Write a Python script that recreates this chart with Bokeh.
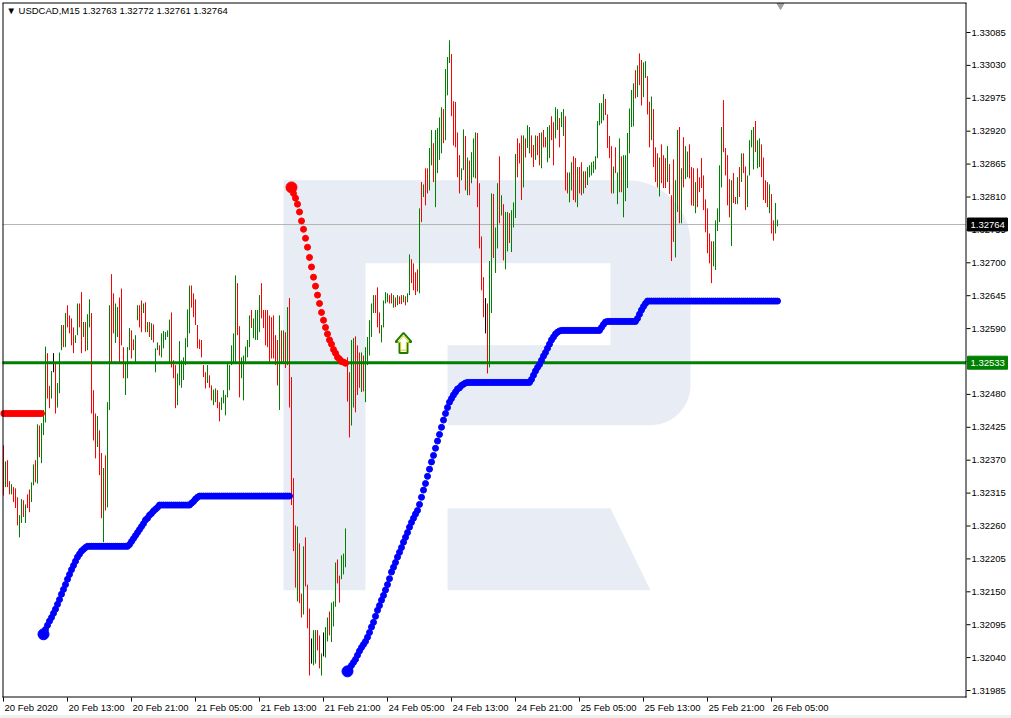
import numpy as np
from bokeh.plotting import figure
from bokeh.models import Range1d
from bokeh.core.properties import value
from bokeh.embed import file_html
from bokeh.resources import INLINE

# ---------------- data ----------------
symbol = "USDCAD,M15"
last_ohlc = [1.32763, 1.32772, 1.32761, 1.32764]
bid_price = 1.32764
level_price = 1.32533

price_ticks = [1.33085, 1.33030, 1.32975, 1.32920, 1.32865, 1.32810, 1.32755,
               1.32700, 1.32645, 1.32590, 1.32535, 1.32480, 1.32425, 1.32370,
               1.32315, 1.32260, 1.32205, 1.32150, 1.32095, 1.32040, 1.31985]
time_tick_bars = [0, 32, 64, 96, 128, 160, 192, 224, 256, 288, 320, 352, 384]
time_labels = ["20 Feb 2020", "20 Feb 13:00", "20 Feb 21:00", "21 Feb 05:00",
               "21 Feb 13:00", "21 Feb 21:00", "24 Feb 05:00", "24 Feb 13:00",
               "24 Feb 21:00", "25 Feb 05:00", "25 Feb 13:00", "25 Feb 21:00",
               "26 Feb 05:00"]

# bar highs / lows in points (price * 1e5), one per M15 bar
bar_high = [
    132395, 132368, 132370, 132335, 132330, 132325, 132323, 132308, 132278, 132305,
    132303, 132296, 132313, 132321, 132333, 132363, 132370, 132430, 132428, 132432,
    132454, 132560, 132549, 132494, 132519, 132549, 132532, 132499, 132550, 132596,
    132596, 132616, 132629, 132612, 132607, 132592, 132579, 132632, 132632, 132651,
    132601, 132601, 132614, 132639, 132616, 132487, 132448, 132444, 132420, 132382,
    132357, 132378, 132467, 132629, 132681, 132649, 132632, 132626, 132642, 132657,
    132559, 132532, 132559, 132591, 132587, 132572, 132579, 132629, 132629, 132637,
    132632, 132634, 132601, 132601, 132599, 132597, 132557, 132567, 132562, 132582,
    132586, 132584, 132587, 132605, 132617, 132537, 132529, 132515, 132569, 132537,
    132542, 132574, 132622, 132662, 132662, 132649, 132639, 132596, 132572, 132571,
    132529, 132517, 132529, 132512, 132495, 132488, 132490, 132487, 132467, 132475,
    132487, 132479, 132532, 132529, 132562, 132582, 132679, 132666, 132594, 132542,
    132545, 132560, 132571, 132612, 132621, 132607, 132621, 132621, 132646, 132666,
    132621, 132621, 132621, 132612, 132609, 132612, 132579, 132571, 132612, 132587,
    132587, 132584, 132626, 132641, 132509, 132340, 132261, 132259, 132231, 132147,
    132226, 132241, 132162, 132122, 132072, 132086, 132086, 132086, 132077, 132047,
    132082, 132091, 132107, 132117, 132132, 132134, 132199, 132204, 132177, 132211,
    132214, 132256, 132542, 132517, 132571, 132574, 132577, 132562, 132550, 132550,
    132545, 132559, 132576, 132604, 132632, 132646, 132646, 132659, 132617, 132596,
    132637, 132651, 132649, 132646, 132649, 132646, 132642, 132646, 132644, 132646,
    132646, 132644, 132649, 132714, 132706, 132699, 132684, 132689, 132791, 132835,
    132831, 132858, 132858, 132892, 132922, 132900, 132922, 132925, 132943, 132960,
    132957, 133024, 133044, 133072, 133049, 132970, 132969, 132918, 132880, 132858,
    132923, 132912, 132876, 132871, 132885, 132908, 132918, 132917, 132833, 132744,
    132676, 132641, 132632, 132703, 132816, 132815, 132759, 132833, 132878, 132813,
    132798, 132785, 132785, 132783, 132788, 132801, 132882, 132908, 132900, 132913,
    132913, 132908, 132930, 132927, 132913, 132897, 132913, 132912, 132917, 132918,
    132922, 132910, 132927, 132930, 132945, 132935, 132960, 132957, 132942, 132952,
    132957, 132945, 132851, 132851, 132868, 132878, 132875, 132860, 132860, 132868,
    132853, 132853, 132860, 132863, 132868, 132870, 132878, 132937, 132967, 132967,
    132982, 132974, 132948, 132912, 132895, 132861, 132893, 132851, 132908, 132878,
    132880, 132880, 132917, 132958, 132989, 133000, 133022, 133030, 133050, 133039,
    133035, 133037, 133012, 132969, 132978, 132957, 132893, 132883, 132876, 132898,
    132880, 132875, 132895, 132865, 132813, 132873, 132838, 132922, 132927, 132858,
    132910, 132895, 132886, 132898, 132860, 132858, 132835, 132858, 132843, 132875,
    132846, 132806, 132791, 132749, 132736, 132736, 132771, 132791, 132863, 132927,
    132972, 132892, 132880, 132840, 132838, 132850, 132810, 132843, 132860, 132883,
    132883, 132861, 132846, 132905, 132922, 132927, 132937, 132905, 132908, 132898,
    132876, 132838, 132835, 132831, 132815, 132771, 132800, 132772]
bar_low = [
    132311, 132325, 132325, 132313, 132313, 132300, 132290, 132261, 132241, 132265,
    132275, 132265, 132290, 132283, 132300, 132328, 132333, 132331, 132375, 132365,
    132412, 132433, 132473, 132457, 132473, 132517, 132448, 132458, 132482, 132554,
    132559, 132559, 132592, 132582, 132562, 132549, 132566, 132579, 132592, 132549,
    132576, 132552, 132554, 132592, 132448, 132403, 132373, 132392, 132345, 132273,
    132233, 132286, 132291, 132454, 132534, 132582, 132566, 132576, 132532, 132562,
    132507, 132479, 132507, 132554, 132540, 132554, 132534, 132604, 132592, 132584,
    132616, 132584, 132584, 132576, 132571, 132567, 132517, 132554, 132545, 132542,
    132557, 132571, 132576, 132532, 132525, 132507, 132457, 132462, 132495, 132491,
    132504, 132529, 132559, 132582, 132625, 132609, 132596, 132557, 132556, 132542,
    132509, 132490, 132499, 132491, 132470, 132462, 132467, 132457, 132435, 132454,
    132465, 132445, 132475, 132487, 132529, 132532, 132532, 132579, 132475, 132507,
    132470, 132532, 132542, 132559, 132591, 132574, 132571, 132571, 132584, 132607,
    132591, 132562, 132559, 132534, 132540, 132540, 132529, 132495, 132454, 132534,
    132534, 132524, 132529, 132458, 132295, 132218, 132157, 132134, 132131, 132107,
    132112, 132159, 132089, 132010, 132030, 132027, 132030, 132052, 132022, 132010,
    132042, 132040, 132067, 132077, 132066, 132092, 132125, 132164, 132132, 132171,
    132179, 132191, 132468, 132408, 132428, 132458, 132450, 132479, 132491, 132484,
    132485, 132467, 132529, 132545, 132576, 132616, 132616, 132592, 132582, 132567,
    132592, 132632, 132634, 132632, 132632, 132625, 132626, 132629, 132631, 132631,
    132634, 132629, 132634, 132646, 132666, 132654, 132646, 132652, 132649, 132768,
    132810, 132796, 132816, 132821, 132863, 132835, 132793, 132850, 132872, 132883,
    132900, 132905, 132980, 133034, 132945, 132896, 132893, 132843, 132816, 132838,
    132855, 132821, 132813, 132813, 132833, 132843, 132841, 132793, 132724, 132654,
    132609, 132582, 132515, 132525, 132616, 132708, 132683, 132724, 132766, 132779,
    132704, 132689, 132719, 132733, 132718, 132759, 132775, 132843, 132866, 132805,
    132826, 132876, 132892, 132883, 132876, 132860, 132872, 132880, 132863, 132858,
    132893, 132893, 132868, 132875, 132905, 132863, 132908, 132922, 132893, 132927,
    132912, 132821, 132816, 132801, 132821, 132805, 132801, 132793, 132816, 132813,
    132816, 132825, 132830, 132843, 132846, 132850, 132856, 132875, 132930, 132933,
    132938, 132947, 132892, 132875, 132816, 132816, 132850, 132798, 132818, 132818,
    132776, 132803, 132825, 132883, 132927, 132928, 132975, 132977, 132997, 132963,
    132977, 133009, 132948, 132893, 132905, 132860, 132835, 132826, 132811, 132833,
    132825, 132825, 132835, 132815, 132703, 132735, 132709, 132785, 132766, 132766,
    132826, 132840, 132843, 132841, 132796, 132795, 132783, 132793, 132818, 132825,
    132788, 132751, 132716, 132699, 132666, 132694, 132688, 132753, 132768, 132826,
    132885, 132846, 132796, 132776, 132728, 132800, 132798, 132798, 132810, 132835,
    132850, 132788, 132793, 132846, 132893, 132856, 132885, 132858, 132860, 132843,
    132805, 132800, 132793, 132783, 132749, 132737, 132749, 132761]
# bar direction: g = up, d = down, n = unchanged
bar_dir = ("dgddgdddgg" "dgddggdgdg" "ggddgndggg" "dgddddggdd" "gdggdddgdd"
           "gdggddggdd" "dgggddggdd" "gdgdgdggdg" "ggggdddggg" "ggggdddddd"
           "ddgddggddg" "gggggggddg" "ggggdggggd" "ddddddddgd" "gdgddddgdd"
           "gdddnggddg" "nggdgggddg" "ggddggdddg" "dgggggdddg" "gggddgdgdd"
           "gdggddddgd" "gddggdgggg" "dgggdddddg" "gdgdgggddd" "dndggdggdg"
           "dggdgggddd" "gdggddgddg" "ddggddggdg" "gddggddgdd" "gdgggggggg"
           "gddddgdggd" "ggggggdgdd" "ggddgdddgd" "ddgdddggdg" "dggdddgddd"
           "dddddggggg" "ddddgddgdg" "ddggggdggd" "dddgddgg")

# trailing-stop indicator (points), segments with their first bar
stop_red_1_start = 0
stop_red_1 = [132448, 132448, 132448, 132448, 132448, 132448, 132448, 132448, 132448, 132448,
              132448, 132448, 132448, 132448, 132448, 132448, 132448, 132448, 132448, 132448]
stop_blue_1_start = 20
stop_blue_1 = [
    132079, 132087, 132094, 132101, 132107, 132114, 132121, 132129, 132137, 132146,
    132154, 132162, 132171, 132179, 132187, 132194, 132201, 132208, 132213, 132218,
    132221, 132224,
    132226, 132226, 132226, 132226, 132226, 132226, 132226, 132226, 132226, 132226,
    132226, 132226, 132226, 132226, 132226, 132226, 132226, 132226, 132226, 132226, 132226,
    132229, 132234, 132239, 132244, 132249, 132254, 132259, 132264, 132270, 132273,
    132278, 132281, 132285, 132288, 132291,
    132295, 132295, 132295, 132295, 132295, 132295, 132295, 132295, 132295, 132295,
    132295, 132295, 132295, 132295, 132295, 132295,
    132298, 132301, 132305, 132308,
    132310, 132310, 132310, 132310, 132310, 132310, 132310, 132310, 132310, 132310,
    132310, 132310, 132310, 132310, 132310, 132310, 132310, 132310, 132310, 132310,
    132310, 132310, 132310, 132310, 132310, 132310, 132310, 132310, 132310, 132310,
    132310, 132310, 132310, 132310, 132310, 132310, 132310, 132310, 132310, 132310,
    132310, 132310, 132310, 132310, 132310, 132310]
stop_red_2_start = 144
stop_red_2 = [132826, 132816, 132808, 132798, 132785, 132770, 132756, 132741, 132726, 132709,
              132693, 132676, 132661, 132646, 132632, 132617, 132604, 132592, 132581, 132571,
              132564, 132555, 132549, 132542, 132539, 132535, 132534, 132532]
stop_blue_2_start = 172
stop_blue_2 = [
    132017, 132022, 132027, 132032, 132037, 132044, 132051, 132057, 132062, 132067,
    132074, 132082, 132091, 132099, 132109, 132119, 132127, 132136, 132144, 132153,
    132162, 132172, 132183, 132191, 132199, 132208, 132216, 132224, 132233, 132241,
    132249, 132258, 132266, 132273, 132280, 132286, 132296, 132308, 132320, 132331,
    132343, 132355, 132367, 132378, 132390, 132402, 132413, 132425, 132437, 132448,
    132458, 132467, 132473, 132479, 132484, 132489, 132491, 132495, 132497, 132499,
    132500, 132500, 132500, 132500, 132500, 132500, 132500, 132500, 132500, 132500,
    132500, 132500, 132500, 132500, 132500, 132500, 132500, 132500, 132500, 132500,
    132500, 132500, 132500, 132500, 132500, 132500, 132500, 132500, 132500, 132500,
    132500, 132500,
    132505, 132512, 132519, 132525, 132530, 132537, 132544, 132550, 132557, 132564,
    132571, 132576, 132581, 132584, 132586,
    132587, 132587, 132587, 132587, 132587, 132587, 132587, 132587, 132587, 132587,
    132587, 132587, 132587, 132587, 132587, 132587, 132587, 132587, 132587, 132587,
    132592, 132597, 132601,
    132602, 132602, 132602, 132602, 132602, 132602, 132602, 132602, 132602, 132602,
    132602, 132602, 132602, 132602, 132602,
    132607, 132614, 132621, 132627, 132632,
    132636, 132636, 132636, 132636, 132636, 132636, 132636, 132636, 132636, 132636,
    132636, 132636, 132636, 132636, 132636, 132636, 132636, 132636, 132636, 132636,
    132636, 132636, 132636, 132636, 132636, 132636, 132636, 132636, 132636, 132636,
    132636, 132636, 132636, 132636, 132636, 132636, 132636, 132636, 132636, 132636,
    132636, 132636, 132636, 132636, 132636, 132636, 132636, 132636, 132636, 132636,
    132636, 132636, 132636, 132636, 132636, 132636, 132636, 132636, 132636, 132636,
    132636, 132636, 132636, 132636, 132636, 132636]

arrow_bar = 200
arrow_price = 1.32566

# ---------------- layout (whole canvas is the frame) ----------------
W, H = 1011, 718
PXB = 2.0                 # px per bar
PXP = 59818.0             # px per price unit
X0 = -1.5                 # bar value at canvas left edge
X1 = X0 + W / PXB
Y1 = 1.331385             # price at canvas top edge
Y0 = Y1 - H / PXP

def bx(px):   # canvas px -> bar coordinate
    return X0 + px / PXB

def py(pix):  # canvas px (from top) -> price coordinate
    return Y1 - pix / PXP

FONT = "Liberation Sans"
FS = "9.5px"
GREEN = "#008000"
RED = "#ff0000"
BLUE = "#0000ff"
LOGO = "#e8edf5"

p = figure(width=W, height=H, x_range=Range1d(X0, X1), y_range=Range1d(Y0, Y1),
           output_backend="svg", toolbar_location=None,
           x_axis_location=None, y_axis_location=None,
           min_border=0, min_border_left=0, min_border_right=0,
           min_border_top=0, min_border_bottom=0)
p.grid.visible = False
p.background_fill_color = "white"
p.border_fill_color = "white"
p.outline_line_color = None

# bottom status strip
p.quad(left=X0, right=X1, top=py(715), bottom=Y0, color="#f0f0f0")

# ---- watermark logo (drawn in the chart's bar/price space) ----
def logo_pt(px, pyx):
    return (px - 3.0) / 2.0, (133139 - 1.672 * pyx) / 1e5

def arc(cx, cy, r, a0, a1, n=18):
    t = np.radians(np.linspace(a0, a1, n))
    return list(zip(cx + r * np.cos(t), cy + r * np.sin(t)))

outline = ([(283, 180), (627, 180)] + arc(627, 243, 63, -90, 0) +
           [(690, 385)] + arc(650, 385, 40, 0, 90) +
           [(447, 425), (447, 345), (610, 345), (610, 263), (365, 263),
            (365, 590), (283, 590)])
leg = [(447, 508), (610, 508), (650, 590), (447, 590)]
for shape in (outline, leg):
    pts = [logo_pt(a, b) for a, b in shape]
    p.patch([q[0] for q in pts], [q[1] for q in pts], fill_color=LOGO,
            line_color=None)

FL, FR = bx(2), bx(965.5)     # chart frame left / right

# ---- bid line ----
p.segment(x0=[FL], x1=[FR], y0=[bid_price], y1=[bid_price],
          line_color="#b4b4b4", line_width=1)

# ---- bars ----
n = min(len(bar_high), len(bar_low), len(bar_dir))
cmap = {"g": GREEN, "d": RED, "n": "black"}
p.segment(x0=list(range(n)), x1=list(range(n)),
          y0=[v / 1e5 for v in bar_low[:n]], y1=[v / 1e5 for v in bar_high[:n]],
          color=[cmap[c] for c in bar_dir[:n]], line_width=1)

# ---- level line ----
p.segment(x0=[FL], x1=[FR], y0=[level_price], y1=[level_price],
          line_color=GREEN, line_width=3)

# ---- stop indicator dots ----
segments = [(stop_red_1_start, stop_red_1, RED, False),
            (stop_blue_1_start, stop_blue_1, BLUE, True),
            (stop_red_2_start, stop_red_2, RED, True),
            (stop_blue_2_start, stop_blue_2, BLUE, True)]
for start, vals, col, big in segments:
    xs = list(range(start, start + len(vals)))
    ys = [v / 1e5 for v in vals]
    p.scatter(xs, ys, size=6, color=col, marker="circle")
    if big:
        p.scatter([xs[0]], [ys[0]], size=11, color=col, marker="circle")

# ---- signal arrow ----
arrow_shape = [(0, -10), (8, -1), (4, -1), (4, 10), (-4, 10), (-4, -1), (-8, -1)]
p.patch([arrow_bar + dx / PXB for dx, dy in arrow_shape],
        [arrow_price - dy / PXP for dx, dy in arrow_shape],
        fill_color="white", line_color="#1f7a00", line_width=2)
p.patch([arrow_bar + dx * 0.72 / PXB for dx, dy in arrow_shape],
        [arrow_price - dy * 0.72 / PXP for dx, dy in arrow_shape],
        fill_color="white", line_color="#d0d000", line_width=1)

# ---- shift marker ----
p.scatter([n + 0.5], [py(5)], marker="inverted_triangle", size=7,
          color="#a0a0a0")

# ---- chart frame ----
p.multi_line(xs=[[bx(2.5), bx(2.5)], [bx(2), bx(966)], [bx(965.5), bx(965.5)], [bx(2), bx(966)]],
             ys=[[py(2.5), py(697)], [py(2.5), py(2.5)], [py(2.5), py(697)], [py(696.5), py(696.5)]],
             line_color="black", line_width=1)

# ---- price scale on the right ----
p.segment(x0=[bx(966)] * len(price_ticks), x1=[bx(970)] * len(price_ticks),
          y0=price_ticks, y1=price_ticks, line_color="black", line_width=1)
p.text(x=[bx(971)] * len(price_ticks), y=price_ticks,
       text=[f"{t:.5f}" for t in price_ticks], text_font=value(FONT),
       text_font_size=value(FS), text_color="black", text_align="left",
       text_baseline="middle")

# ---- time scale at the bottom ----
p.segment(x0=time_tick_bars, x1=time_tick_bars,
          y0=[py(697)] * len(time_tick_bars), y1=[py(701)] * len(time_tick_bars),
          line_color="black", line_width=1)
p.text(x=[t + 0.5 for t in time_tick_bars], y=[py(706.5)] * len(time_tick_bars),
       text=time_labels, text_font=value(FONT), text_font_size=value(FS),
       text_color="black", text_align="left", text_baseline="middle")

# ---- price boxes ----
for price, bg in ((bid_price, "black"), (level_price, GREEN)):
    p.quad(left=[bx(967)], right=[bx(1007)], top=[price + 6.5 / PXP],
           bottom=[price - 6.5 / PXP], color=bg)
    p.text(x=[bx(970)], y=[price], text=[f"{price:.5f}"], text_font=value(FONT),
           text_font_size=value(FS), text_color="white", text_align="left",
           text_baseline="middle")

# ---- title ----
title_txt = "\u25bc " + symbol + "  " + " ".join(f"{v:.5f}" for v in last_ohlc)
p.text(x=[bx(6)], y=[py(10)], text=[title_txt], text_font=value(FONT),
       text_font_size=value(FS), text_color="black", text_align="left",
       text_baseline="middle")

open("out.html", "w").write(file_html(p, INLINE))
